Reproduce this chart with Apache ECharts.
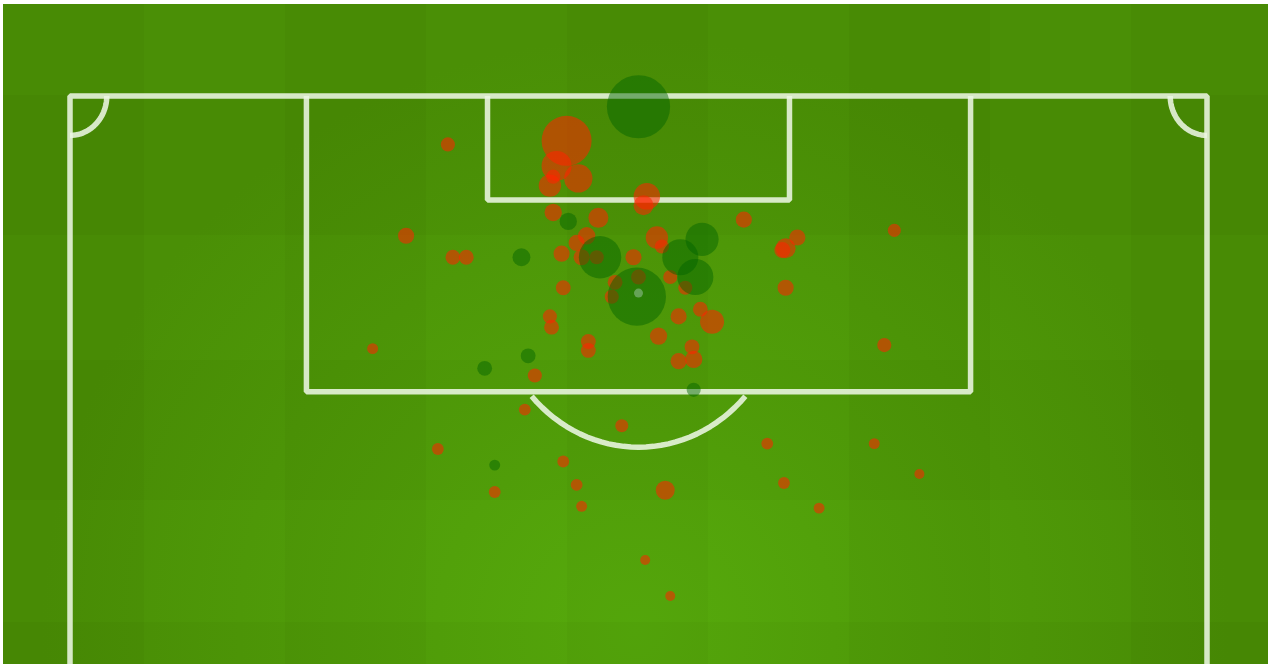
<!DOCTYPE html>
<html>
<head>
<meta charset="utf-8">
<title>Shot map</title>
<script src="https://cdn.jsdelivr.net/npm/echarts@6/dist/echarts.min.js"></script>
<style>
  html, body { margin: 0; padding: 0; background: #fff; }
  #main { width: 1272px; height: 664px; }
</style>
</head>
<body>
<div id="main"></div>
<script>
// shots: [metres across pitch, metres from goal line, xG]
var missedShots = [
  [29.7, 2.5, 0.25], [29.1, 3.9, 0.09], [30.4, 4.6, 0.08], [28.7, 5.0, 0.05],
  [28.9, 4.5, 0.02], [34.5, 5.6, 0.07], [34.3, 6.1, 0.04], [28.9, 6.5, 0.03],
  [31.6, 6.8, 0.04], [22.6, 2.7, 0.02], [20.1, 7.8, 0.026], [22.9, 9.0, 0.022],
  [23.7, 9.0, 0.022], [30.9, 7.8, 0.03], [30.3, 8.2, 0.026], [29.4, 8.8, 0.026],
  [30.6, 9.0, 0.026], [31.5, 9.0, 0.02], [33.7, 9.0, 0.026], [35.1, 7.9, 0.05],
  [35.4, 8.4, 0.02], [40.3, 6.9, 0.026], [42.8, 8.5, 0.04], [42.6, 8.6, 0.026],
  [43.5, 7.9, 0.026], [49.3, 7.5, 0.017], [29.5, 10.7, 0.022], [32.6, 10.4, 0.022],
  [34.0, 10.1, 0.022], [32.4, 11.2, 0.02], [35.9, 10.1, 0.02], [36.8, 10.7, 0.02],
  [42.8, 10.7, 0.026], [36.4, 12.3, 0.026], [37.7, 11.9, 0.022], [38.4, 12.6, 0.058],
  [28.7, 12.3, 0.02], [28.8, 12.9, 0.022], [31.0, 13.7, 0.022], [31.0, 14.2, 0.022],
  [35.2, 13.4, 0.03], [37.2, 14.0, 0.022], [36.4, 14.8, 0.026], [37.3, 14.7, 0.03],
  [48.7, 13.9, 0.02], [18.1, 14.1, 0.012], [27.8, 15.6, 0.02], [27.2, 17.5, 0.014],
  [33.0, 18.4, 0.017], [22.0, 19.7, 0.014], [29.5, 20.4, 0.014], [41.7, 19.4, 0.014],
  [48.1, 19.4, 0.012], [50.8, 21.1, 0.01], [30.3, 21.7, 0.014], [25.4, 22.1, 0.014],
  [35.6, 22.0, 0.036], [42.7, 21.6, 0.014], [30.6, 22.9, 0.012], [44.8, 23.0, 0.012],
  [34.4, 25.9, 0.01], [35.9, 27.9, 0.01]
];

var goals = [
  [34.0, 0.6, 0.40], [33.9, 11.2, 0.34], [31.7, 9.0, 0.18], [37.8, 8.0, 0.11],
  [36.5, 9.0, 0.13], [37.4, 10.1, 0.13], [29.8, 7.0, 0.03], [27.0, 9.0, 0.032],
  [27.4, 14.5, 0.022], [24.8, 15.2, 0.022], [37.3, 16.4, 0.02], [25.4, 20.6, 0.012]
];

// pitch markings in metres
var pitchWidth = 68;
var viewDepth = 31.7;
var boxHalfWidth = 19.86, boxDepth = 16.5;
var sixHalfWidth = 9.03, sixDepth = 5.8;
var spotDepth = 11, arcRadius = 8.6, cornerRadius = 2.2;

var mid = pitchWidth / 2;
var LINE = 'rgba(236,246,226,0.88)';

function arc(cx, cy, r, a0, a1, keep) {
  var pts = [];
  for (var i = 0; i <= 60; i++) {
    var a = a0 + (a1 - a0) * i / 60;
    var p = [cx + r * Math.cos(a), cy + r * Math.sin(a)];
    if (!keep || keep(p)) pts.push(p);
  }
  return pts;
}

var markings = [
  [[0, viewDepth], [0, 0], [pitchWidth, 0], [pitchWidth, viewDepth]],
  [[mid - boxHalfWidth, 0], [mid - boxHalfWidth, boxDepth], [mid + boxHalfWidth, boxDepth], [mid + boxHalfWidth, 0]],
  [[mid - sixHalfWidth, 0], [mid - sixHalfWidth, sixDepth], [mid + sixHalfWidth, sixDepth], [mid + sixHalfWidth, 0]],
  arc(mid, spotDepth, arcRadius, 0, Math.PI, function (p) { return p[1] >= boxDepth - 0.02; }),
  arc(0, 0, cornerRadius, 0, Math.PI / 2),
  arc(pitchWidth, 0, cornerRadius, Math.PI / 2, Math.PI)
];

var lineSeries = markings.map(function (pts) {
  return {
    type: 'line',
    data: pts,
    showSymbol: false,
    clip: false,
    silent: true,
    z: 2,
    lineStyle: { color: LINE, width: 5.5 },
    animation: false
  };
});

// grass stripes
var stripes = [];
var cols = [3, 144, 285, 426, 567, 708, 849, 990, 1131, 1268];
for (var i = 0; i < cols.length - 1; i += 2) {
  stripes.push({ type: 'rect', silent: true, z: 1,
    shape: { x: cols[i], y: 4, width: cols[i + 1] - cols[i], height: 660 },
    style: { fill: 'rgba(0,0,0,0.025)' } });
}
var rows = [4, 95, 235, 360, 500, 622, 664];
for (var j = 1; j < rows.length - 1; j += 2) {
  stripes.push({ type: 'rect', silent: true, z: 1,
    shape: { x: 3, y: rows[j], width: 1265, height: rows[j + 1] - rows[j] },
    style: { fill: 'rgba(0,0,0,0.022)' } });
}

var myChart = echarts.init(document.getElementById('main'));

var option = {
  backgroundColor: '#ffffff',
  animation: false,
  graphic: [{
    type: 'rect', silent: true, z: 0,
    shape: { x: 3, y: 4, width: 1265, height: 660 },
    style: {
      fill: new echarts.graphic.RadialGradient(0.5, 0.95, 0.9, [
        { offset: 0, color: '#56aa0c' },
        { offset: 1, color: '#4a8f06' }
      ])
    }
  }].concat(stripes),
  grid: { left: 70, right: 65, top: 96, bottom: 0 },
  xAxis: { type: 'value', min: 0, max: pitchWidth, show: false },
  yAxis: { type: 'value', min: 0, max: viewDepth, inverse: true, show: false },
  series: lineSeries.concat([
    {
      type: 'scatter',
      data: [[mid, spotDepth]],
      symbolSize: 9,
      silent: true,
      z: 3,
      itemStyle: { color: LINE }
    },
    {
      name: 'Missed',
      type: 'scatter',
      data: missedShots,
      clip: false,
      z: 4,
      symbolSize: function (v) { return Math.sqrt(v[2]) * 100; },
      itemStyle: { color: 'rgba(255,35,0,0.7)' }
    },
    {
      name: 'Goal',
      type: 'scatter',
      data: goals,
      clip: false,
      z: 5,
      symbolSize: function (v) { return Math.sqrt(v[2]) * 100; },
      itemStyle: { color: 'rgba(0,100,0,0.58)' }
    }
  ])
};

myChart.setOption(option);
</script>
</body>
</html>
